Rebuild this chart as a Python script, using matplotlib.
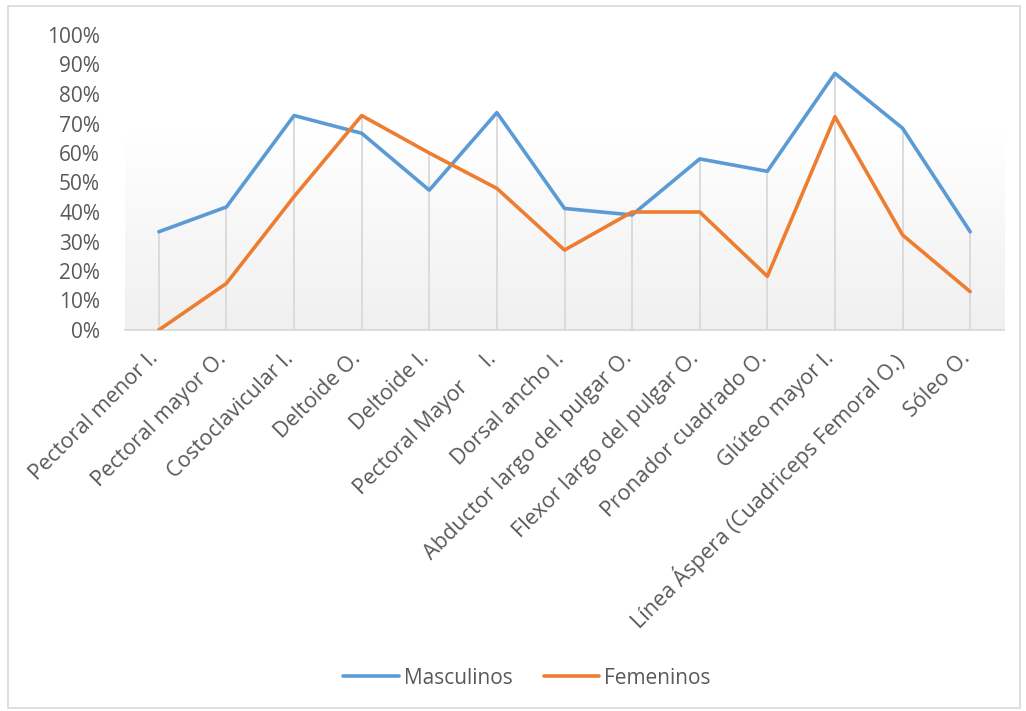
import numpy as np
import matplotlib
matplotlib.use("Agg")
import matplotlib.pyplot as plt
from matplotlib.patches import Rectangle
from matplotlib.ticker import FuncFormatter

categories = ["Pectoral menor I.", "Pectoral mayor O.", "Costoclavicular I.", "Deltoide O.",
              "Deltoide I.", "Pectoral Mayor     I.", "Dorsal ancho I.",
              "Abductor largo del pulgar O.", "Flexor largo del pulgar O.",
              "Pronador cuadrado O.", "Glúteo mayor I.",
              "Línea Áspera (Cuadriceps Femoral O.)", "Sóleo O."]
masculinos = [0.333, 0.417, 0.727, 0.667, 0.474, 0.737, 0.412, 0.390, 0.580, 0.538, 0.870, 0.684, 0.333]
femeninos = [0.0, 0.158, 0.452, 0.727, 0.600, 0.480, 0.271, 0.400, 0.400, 0.182, 0.723, 0.322, 0.130]
series_names = ["Masculinos", "Femeninos"]
colors = ["#5B9BD5", "#ED7D31"]

plt.rcParams['font.family'] = ['Open Sans', 'DejaVu Sans']
txt = "#595959"

fig = plt.figure(figsize=(10.26, 7.11), dpi=100)
ax = fig.add_axes([125/1026, 1-330/711, (1004-125)/1026, (330-35)/711])

x = np.arange(len(categories))
ax.set_xlim(-0.5, len(categories)-0.5)
ax.set_ylim(0, 1.0)

# gradient background
grad = np.linspace(0, 1, 256).reshape(-1, 1)
cmap = matplotlib.colors.LinearSegmentedColormap.from_list("g", ["#f0f0f0", "#f7f7f7", "#ffffff", "#ffffff"])
ax.imshow(grad, extent=[-0.5, len(categories)-0.5, 0, 1.0], origin="lower", aspect="auto",
          cmap=cmap, zorder=0)

# drop lines
tops = np.maximum(masculinos, femeninos)
ax.vlines(x, 0, tops, color="#d9d9d9", lw=1.3, zorder=1)

for vals, name, c in zip([masculinos, femeninos], series_names, colors):
    ax.plot(x, vals, color=c, lw=2.6, label=name, zorder=3, solid_capstyle="round", solid_joinstyle="round")

for s in ["top", "right", "left"]:
    ax.spines[s].set_visible(False)
ax.spines["bottom"].set_color("#d9d9d9")
ax.spines["bottom"].set_linewidth(1.3)

ax.set_yticks(np.arange(0, 1.01, 0.1))
ax.yaxis.set_major_formatter(FuncFormatter(lambda v, p: f"{int(round(v*100))}%"))
ax.tick_params(axis="y", length=0, pad=18, labelsize=15, labelcolor=txt)
ax.set_xticks(x)
ax.set_xticklabels(categories, rotation=45, ha="right", va="top", rotation_mode="anchor",
                   fontsize=15.5, color=txt)
ax.tick_params(axis="x", length=0, pad=8)
for lab in ax.get_xticklabels():
    lab.set_transform(lab.get_transform() + matplotlib.transforms.ScaledTranslation(-11/100, -7/100, fig.dpi_scale_trans))

leg = fig.legend(loc="center", bbox_to_anchor=(527/1026, 1-678/711), ncol=2, frameon=False,
                 fontsize=15, handlelength=2.65, columnspacing=1.5, handletextpad=0.25)
for t in leg.get_texts():
    t.set_color(txt)

fig.patches.append(Rectangle((8/1026, 1-708/711), 1012/1026, 702/711, transform=fig.transFigure,
                             fill=False, edgecolor="#d9d9d9", lw=1.2))

fig.savefig("out.png", dpi=100, facecolor="white")
